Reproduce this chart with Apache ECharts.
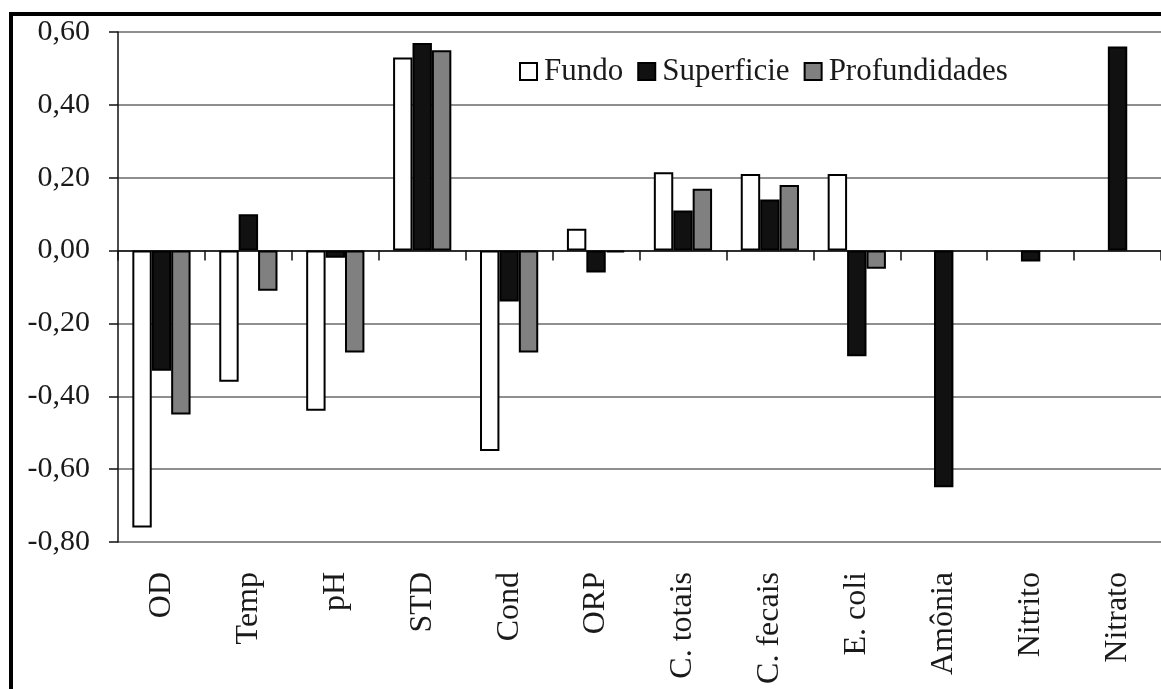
<!DOCTYPE html>
<html>
<head>
<meta charset="utf-8">
<script src="https://cdn.jsdelivr.net/npm/echarts@6/dist/echarts.min.js"></script>
<style>
  html, body { margin: 0; padding: 0; background: #fff; }
  #chart { width: 1161px; height: 689px; }
</style>
</head>
<body>
<div id="chart"></div>
<script>
var categories = ['OD', 'Temp', 'pH', 'STD', 'Cond', 'ORP', 'C. totais', 'C. fecais', 'E. coli', 'Amônia', 'Nitrito', 'Nitrato'];
var fundo = [-0.76, -0.36, -0.44, 0.53, -0.55, 0.06, 0.215, 0.21, 0.21, null, null, null];
var superficie = [-0.33, 0.10, -0.02, 0.57, -0.14, -0.06, 0.11, 0.14, -0.29, -0.65, -0.03, 0.56];
var profundidades = [-0.45, -0.11, -0.28, 0.55, -0.28, -0.005, 0.17, 0.18, -0.05, null, null, null];
var yTicks = { min: -0.8, max: 0.6, step: 0.2 };

var serif = "'Liberation Serif', 'Times New Roman', serif";
var ink = '#1a1a1a';

var myChart = echarts.init(document.getElementById('chart'));

function barSeries(name, data, fill) {
    return {
        name: name,
        type: 'bar',
        xAxisIndex: 0,
        data: data,
        barGap: '0%',
        barCategoryGap: '33%',
        itemStyle: { color: fill, borderColor: '#000', borderWidth: 2 }
    };
}

var option = {
    backgroundColor: '#fff',
    animation: false,
    grid: { left: 118, top: 32, width: 1045, height: 510, containLabel: false },
    legend: {
        left: 514,
        top: 51,
        itemWidth: 17,
        itemHeight: 17,
        itemGap: 14,
        icon: 'rect',
        selectedMode: false,
        textStyle: { fontFamily: serif, fontSize: 31, color: ink, padding: [0, 0, 0, 2] },
        data: ['Fundo', 'Superficie', 'Profundidades']
    },
    xAxis: [
        {
            type: 'category',
            data: categories,
            position: 'bottom',
            axisLine: { onZero: true, lineStyle: { color: '#111', width: 1.5 } },
            axisTick: { show: true, interval: 0, length: 10, lineStyle: { color: '#111', width: 1.5 } },
            axisLabel: { show: false },
            splitLine: { show: false }
        },
        {
            type: 'category',
            data: categories,
            position: 'bottom',
            axisLine: { show: false, onZero: false },
            axisTick: { show: false },
            axisLabel: {
                interval: 0,
                rotate: 90,
                margin: 30,
                fontFamily: serif,
                fontSize: 32,
                color: ink
            },
            splitLine: { show: false }
        }
    ],
    yAxis: {
        type: 'value',
        min: yTicks.min,
        max: yTicks.max,
        interval: yTicks.step,
        axisLine: { show: true, lineStyle: { color: '#111', width: 1.5 } },
        axisTick: { show: true, length: 9, lineStyle: { color: '#111', width: 1.5 } },
        axisLabel: {
            margin: 28,
            fontFamily: serif,
            fontSize: 30,
            color: ink,
            formatter: function (v) { return v.toFixed(2).replace('.', ','); }
        },
        splitLine: { show: true, lineStyle: { color: '#6a6a6a', width: 1.5 } }
    },
    series: [
        barSeries('Fundo', fundo, '#ffffff'),
        barSeries('Superficie', superficie, '#111111'),
        barSeries('Profundidades', profundidades, '#808080')
    ],
    graphic: [
        {
            type: 'rect',
            z: 100,
            silent: true,
            shape: { x: 11, y: 14, width: 1400, height: 1000 },
            style: { fill: 'none', stroke: '#000', lineWidth: 4 }
        }
    ]
};

myChart.setOption(option);
</script>
</body>
</html>
